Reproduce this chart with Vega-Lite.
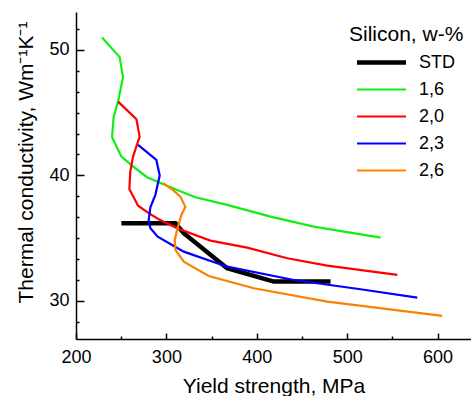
{
  "$schema": "https://vega.github.io/schema/vega-lite/v6.json",
  "width": 395,
  "height": 327,
  "autosize": {"type": "none"},
  "padding": {"left": 76, "top": 12, "right": 0, "bottom": 57},
  "background": "white",
  "config": {"view": {"stroke": null}, "font": "Liberation Sans"},
  "data": {"values": [
    {"s": "STD", "i": 0, "x": 250.2, "y": 36.18},
    {"s": "STD", "i": 1, "x": 310.0, "y": 36.18},
    {"s": "STD", "i": 2, "x": 319.2, "y": 35.38},
    {"s": "STD", "i": 3, "x": 367.2, "y": 32.59},
    {"s": "STD", "i": 4, "x": 418.8, "y": 31.52},
    {"s": "STD", "i": 5, "x": 481.6, "y": 31.52},
    {"s": "1,6", "i": 0, "x": 228.8, "y": 51.0},
    {"s": "1,6", "i": 1, "x": 248.3, "y": 49.43},
    {"s": "1,6", "i": 2, "x": 252.0, "y": 47.83},
    {"s": "1,6", "i": 3, "x": 246.5, "y": 45.88},
    {"s": "1,6", "i": 4, "x": 241.6, "y": 44.64},
    {"s": "1,6", "i": 5, "x": 239.9, "y": 43.04},
    {"s": "1,6", "i": 6, "x": 250.2, "y": 41.49},
    {"s": "1,6", "i": 7, "x": 262.0, "y": 40.77},
    {"s": "1,6", "i": 8, "x": 278.6, "y": 39.85},
    {"s": "1,6", "i": 9, "x": 289.7, "y": 39.5},
    {"s": "1,6", "i": 10, "x": 311.8, "y": 38.83},
    {"s": "1,6", "i": 11, "x": 332.1, "y": 38.25},
    {"s": "1,6", "i": 12, "x": 367.2, "y": 37.64},
    {"s": "1,6", "i": 13, "x": 415.2, "y": 36.7},
    {"s": "1,6", "i": 14, "x": 463.1, "y": 35.91},
    {"s": "1,6", "i": 15, "x": 537.0, "y": 35.03},
    {"s": "2,0", "i": 0, "x": 246.5, "y": 45.88},
    {"s": "2,0", "i": 1, "x": 266.8, "y": 44.48},
    {"s": "2,0", "i": 2, "x": 270.4, "y": 43.09},
    {"s": "2,0", "i": 3, "x": 263.1, "y": 41.49},
    {"s": "2,0", "i": 4, "x": 260.1, "y": 40.3},
    {"s": "2,0", "i": 5, "x": 259.0, "y": 38.91},
    {"s": "2,0", "i": 6, "x": 268.7, "y": 37.58},
    {"s": "2,0", "i": 7, "x": 280.4, "y": 36.98},
    {"s": "2,0", "i": 8, "x": 291.5, "y": 36.5},
    {"s": "2,0", "i": 9, "x": 311.8, "y": 35.78},
    {"s": "2,0", "i": 10, "x": 348.7, "y": 34.79},
    {"s": "2,0", "i": 11, "x": 389.4, "y": 34.23},
    {"s": "2,0", "i": 12, "x": 433.7, "y": 33.38},
    {"s": "2,0", "i": 13, "x": 478.0, "y": 32.79},
    {"s": "2,0", "i": 14, "x": 555.5, "y": 32.05},
    {"s": "2,3", "i": 0, "x": 268.7, "y": 42.43},
    {"s": "2,3", "i": 1, "x": 288.9, "y": 41.23},
    {"s": "2,3", "i": 2, "x": 292.6, "y": 39.98},
    {"s": "2,3", "i": 3, "x": 287.8, "y": 38.44},
    {"s": "2,3", "i": 4, "x": 282.3, "y": 37.45},
    {"s": "2,3", "i": 5, "x": 280.4, "y": 36.44},
    {"s": "2,3", "i": 6, "x": 282.3, "y": 35.78},
    {"s": "2,3", "i": 7, "x": 290.4, "y": 35.11},
    {"s": "2,3", "i": 8, "x": 319.2, "y": 33.91},
    {"s": "2,3", "i": 9, "x": 367.2, "y": 32.71},
    {"s": "2,3", "i": 10, "x": 441.0, "y": 31.65},
    {"s": "2,3", "i": 11, "x": 514.8, "y": 30.91},
    {"s": "2,3", "i": 12, "x": 577.6, "y": 30.24},
    {"s": "2,6", "i": 0, "x": 296.3, "y": 39.37},
    {"s": "2,6", "i": 1, "x": 308.1, "y": 38.78},
    {"s": "2,6", "i": 2, "x": 315.5, "y": 38.3},
    {"s": "2,6", "i": 3, "x": 321.0, "y": 37.48},
    {"s": "2,6", "i": 4, "x": 316.6, "y": 36.84},
    {"s": "2,6", "i": 5, "x": 311.8, "y": 35.64},
    {"s": "2,6", "i": 6, "x": 309.2, "y": 34.84},
    {"s": "2,6", "i": 7, "x": 310.0, "y": 34.05},
    {"s": "2,6", "i": 8, "x": 319.2, "y": 33.11},
    {"s": "2,6", "i": 9, "x": 346.8, "y": 31.97},
    {"s": "2,6", "i": 10, "x": 396.7, "y": 30.99},
    {"s": "2,6", "i": 11, "x": 478.0, "y": 29.92},
    {"s": "2,6", "i": 12, "x": 551.7, "y": 29.26},
    {"s": "2,6", "i": 13, "x": 605.3, "y": 28.78}
  ]},
  "mark": {"type": "line"},
  "encoding": {
    "x": {
      "field": "x", "type": "quantitative",
      "scale": {"domain": [200, 637], "nice": false, "zero": false},
      "axis": {
        "title": "Yield strength, MPa",
        "values": [200, 250, 300, 350, 400, 450, 500, 550, 600],
        "labelExpr": "datum.value % 100 === 0 ? datum.label : ''",
        "tickSize": {"condition": {"test": "datum.value % 100 === 0", "value": -6}, "value": -3},
        "grid": false,
        "domainColor": "black", "domainWidth": 1.5,
        "tickColor": "black", "tickWidth": 1.5,
        "labelFontSize": 18, "labelColor": "black", "labelPadding": 15,
        "labelFlush": false, "labelOverlap": false,
        "titleFontSize": 21, "titleFontWeight": "normal", "titleColor": "black",
        "titleBaseline": "alphabetic", "titleY": 53.5
      }
    },
    "y": {
      "field": "y", "type": "quantitative",
      "scale": {"domain": [26.94, 53.03], "nice": false, "zero": false},
      "axis": {
        "title": "Thermal conductivity, Wm⁻¹K⁻¹",
        "values": [28.3333, 30, 31.6667, 33.3333, 35, 36.6667, 38.3333, 40, 41.6667, 43.3333, 45, 46.6667, 48.3333, 50, 51.6667],
        "labelExpr": "datum.value % 10 === 0 ? datum.label : ''",
        "tickSize": {"condition": {"test": "datum.value % 10 === 0", "value": -8}, "value": -3},
        "grid": false,
        "domainColor": "black", "domainWidth": 1.5,
        "tickColor": "black", "tickWidth": 1.5,
        "labelFontSize": 18, "labelColor": "black", "labelPadding": 15,
        "labelFlush": false, "labelOverlap": false,
        "titleFontSize": 21, "titleFontWeight": "normal", "titleColor": "black",
        "titleBaseline": "alphabetic", "titleAngle": -90, "titleAlign": "center",
        "titleX": -43.5, "titleY": 150
      }
    },
    "color": {
      "field": "s", "type": "nominal",
      "scale": {"domain": ["STD", "1,6", "2,0", "2,3", "2,6"], "range": ["#000000", "#11ee11", "#ff0000", "#0000ff", "#ff8000"]},
      "legend": {
        "title": "Silicon, w-%",
        "orient": "none", "legendX": 273, "legendY": 12,
        "symbolType": "M-2,0H2", "symbolSize": 600,
        "labelFontSize": 18, "labelColor": "black", "labelOffset": 23,
        "titleFontSize": 21, "titleFontWeight": "normal", "titleColor": "black",
        "rowPadding": 4, "symbolOffset": 18, "padding": 0, "titlePadding": 3
      }
    },
    "strokeWidth": {
      "field": "s", "type": "nominal",
      "scale": {"type": "ordinal", "domain": ["STD", "1,6", "2,0", "2,3", "2,6"], "range": [4.5, 2.2, 2.2, 2.2, 2.2]}
    },
    "order": {"field": "i", "type": "quantitative"}
  }
}
